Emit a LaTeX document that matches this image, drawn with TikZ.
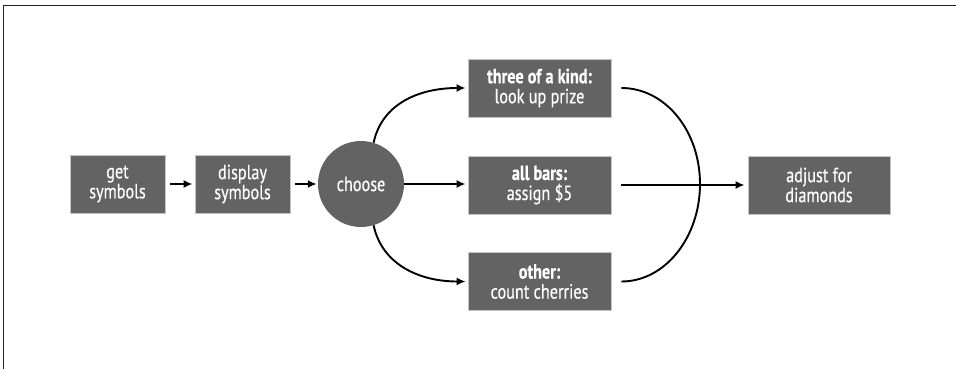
\documentclass[tikz,border=0pt]{standalone}
\usepackage{fontspec}
\setmainfont{PT Sans}[FakeStretch=0.79, FakeBold=0.4]
\usetikzlibrary{arrows.meta}
\definecolor{boxgray}{HTML}{636363}
\definecolor{edgegray}{HTML}{C4C4C4}
\definecolor{framegray}{HTML}{222222}
\tikzset{
  stepbox/.style={draw=edgegray, line width=0.8pt, fill=boxgray, text=white,
    minimum height=58pt, align=center, inner sep=0pt,
    font=\fontsize{20.5}{20}\selectfont},
  roundstep/.style={circle, fill=boxgray, text=white, minimum size=86pt, inner sep=0pt,
    font=\fontsize{20.5}{20}\selectfont},
  link/.style={line width=1.9pt, black},
  arr/.style={link, -{Latex[length=9pt,width=8pt]}},
}
\begin{document}
\begin{tikzpicture}[x=1pt,y=-1pt]
\useasboundingbox (0,0) rectangle (956,369);
% frame
\draw[framegray, line width=1.6pt] (3.5,369) -- (3.5,5.5) -- (956,5.5);
% nodes
\node[stepbox, minimum width=95pt] (get) at (117.5,184) {get\\symbols};
\node[stepbox, minimum width=95pt] (disp) at (242.5,184) {display\\symbols};
\node[roundstep] (ch) at (361,184) {choose};
\node[stepbox, minimum width=143pt] (three) at (539.5,88) {\textbf{three of a kind:}\\look up prize};
\node[stepbox, minimum width=143pt] (bars) at (539.5,185) {\textbf{all bars:}\\assign \$5};
\node[stepbox, minimum width=143pt] (other) at (539.5,281.5) {\textbf{other:}\\count cherries};
\node[stepbox, minimum width=142pt] (adj) at (819,185) {adjust for\\diamonds};
% helper coordinates
\coordinate (tR) at ([xshift=10pt]three.east);
\coordinate (bR) at ([xshift=10pt]bars.east);
\coordinate (oR) at ([xshift=10pt]other.east);
\coordinate (arcR) at (700,184);
% connectors
\draw[arr, shorten <=5pt, shorten >=2pt] (get.east) -- (disp.west);
\draw[arr, shorten <=5pt, shorten >=1pt] (disp.east) -- (ch.west);
\draw[arr, shorten >=2pt] (ch.east) -- (ch.east -| bars.west);
\draw[arr, shorten >=2pt] (ch.73) .. controls +(8,-38) and +(-50,0) .. (three.west);
\draw[arr, shorten >=2pt] (ch.-73) .. controls +(8,38) and +(-50,0) .. (other.west);
\draw[link] (tR) .. controls +(44,0) and +(0,-53) .. (arcR)
            .. controls +(0,53) and +(44,0) .. (oR);
\draw[arr, shorten >=3pt] (bR) -- (adj.west);
\end{tikzpicture}
\end{document}
